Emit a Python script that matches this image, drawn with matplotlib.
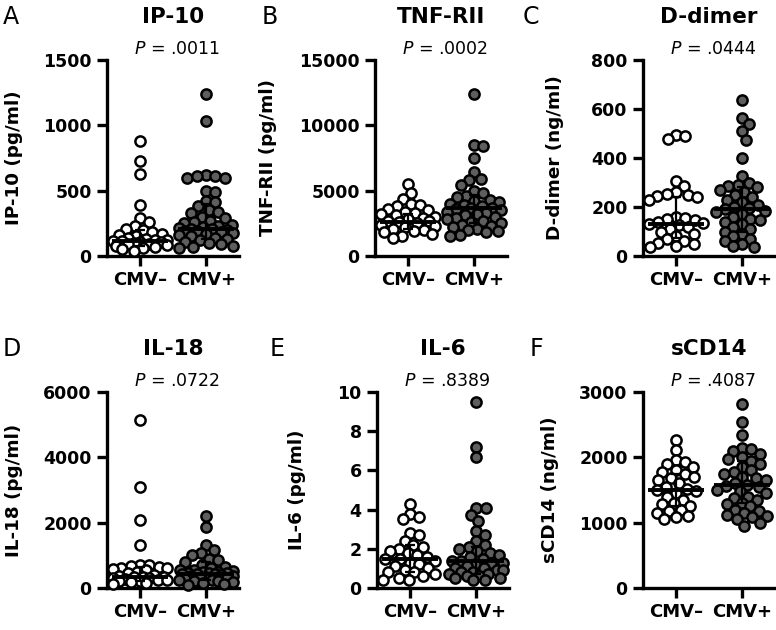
# Six-panel scatter of plasma markers by CMV status (median + IQR)

import numpy as np
import matplotlib.pyplot as plt

plt.rcParams['font.family'] = ['DejaVu Sans']
plt.rcParams['mathtext.fontset'] = 'dejavusans'

# Data
groups = ['CMV\u2013', 'CMV+']
letters = ['A', 'B', 'C', 'D', 'E', 'F']
titles = ['IP-10', 'TNF-RII', 'D-dimer', 'IL-18', 'IL-6', 'sCD14']
ylabels = ['IP-10 (pg/ml)', 'TNF-RII (pg/ml)', 'D-dimer (ng/ml)',
           'IL-18 (pg/ml)', 'IL-6 (pg/ml)', 'sCD14 (ng/ml)']
pvals = ['.0011', '.0002', '.0444', '.0722', '.8389', '.4087']
yticks = [[0, 500, 1000, 1500], [0, 5000, 10000, 15000], [0, 200, 400, 600, 800],
          [0, 2000, 4000, 6000], [0, 2, 4, 6, 8, 10], [0, 1000, 2000, 3000]]

ip10_neg = [880, 730, 630, 390, 290, 260, 230, 210, 200, 180, 170, 160, 150, 140, 130,
            125, 120, 117, 115, 110, 105, 100, 95, 90, 85, 80, 70, 60, 50, 40]
ip10_pos = [1240, 1030, 620, 610, 600, 600, 610, 500, 490, 420, 410, 380, 350, 340, 330,
            300, 290, 270, 260, 250, 240, 230, 220, 215, 210, 205, 200, 195, 190, 180,
            175, 170, 160, 150, 140, 130, 120, 110, 100, 90, 80, 70, 60]
tnf_neg = [5500, 4800, 4400, 4000, 3900, 3800, 3600, 3500, 3400, 3300, 3200, 3100, 3000,
           2900, 2800, 2700, 2650, 2600, 2500, 2400, 2300, 2200, 2100, 2000, 1900, 1800,
           1700, 1500, 1350]
tnf_pos = [12400, 8500, 8400, 7500, 6400, 5900, 5800, 5400, 5000, 4800, 4600, 4500, 4300,
           4200, 4100, 4000, 3900, 3800, 3700, 3650, 3600, 3500, 3400, 3300, 3200, 3100,
           3000, 2900, 2800, 2700, 2600, 2500, 2400, 2300, 2200, 2100, 2000, 1900, 1800,
           1600, 1500]
ddim_neg = [495, 490, 477, 306, 285, 260, 255, 250, 245, 240, 230, 160, 155, 150, 145,
            140, 135, 130, 125, 120, 110, 100, 90, 80, 70, 60, 55, 50, 40, 35]
ddim_pos = [638, 565, 540, 510, 475, 400, 325, 300, 290, 285, 280, 270, 260, 250, 240,
            230, 220, 210, 200, 195, 190, 185, 180, 170, 160, 150, 145, 140, 130, 120,
            110, 100, 90, 80, 70, 60, 50, 40, 35]
il18_neg = [5150, 3080, 2070, 1320, 700, 690, 680, 650, 620, 600, 580, 560, 500, 450,
            400, 380, 350, 340, 330, 320, 300, 280, 260, 240, 220, 200, 180, 150, 120]
il18_pos = [2200, 1880, 1320, 1150, 1070, 1000, 900, 860, 800, 700, 650, 600, 560, 550,
            520, 500, 480, 470, 460, 450, 440, 430, 420, 400, 380, 360, 340, 320, 300,
            280, 260, 240, 220, 200, 180, 150, 120, 100]
il6_neg = [4.3, 3.8, 3.6, 3.5, 2.8, 2.7, 2.4, 2.2, 2.1, 2.0, 1.9, 1.8, 1.7, 1.6, 1.5,
           1.5, 1.4, 1.3, 1.2, 1.1, 1.0, 0.9, 0.8, 0.8, 0.7, 0.6, 0.5, 0.4, 0.4]
il6_pos = [9.5, 7.2, 6.7, 4.1, 4.1, 3.7, 3.4, 2.9, 2.7, 2.4, 2.2, 2.1, 2.0, 1.9, 1.8,
           1.7, 1.6, 1.5, 1.4, 1.4, 1.3, 1.3, 1.2, 1.1, 1.0, 1.0, 0.9, 0.9, 0.8, 0.8,
           0.7, 0.7, 0.6, 0.6, 0.5, 0.5, 0.4, 0.4]
scd14_neg = [2270, 2110, 1960, 1930, 1900, 1850, 1800, 1780, 1750, 1700, 1680, 1650,
             1600, 1550, 1520, 1500, 1480, 1450, 1400, 1350, 1300, 1280, 1250, 1200,
             1180, 1150, 1100, 1080, 1050]
scd14_pos = [2820, 2540, 2340, 2150, 2120, 2100, 2050, 2000, 1980, 1950, 1900, 1850,
             1800, 1780, 1750, 1700, 1680, 1650, 1600, 1580, 1560, 1540, 1500, 1480,
             1450, 1400, 1380, 1350, 1300, 1280, 1250, 1200, 1180, 1150, 1120, 1100,
             1080, 1050, 1000, 950]

medians = [[117, 205], [2630, 3650], [130, 190], [335, 440], [1.48, 1.38], [1500, 1580]]
q1 = [[80, 130], [2100, 2500], [75, 100], [200, 250], [0.8, 0.7], [1250, 1300]]
q3 = [[200, 400], [3200, 4700], [240, 280], [650, 800], [2.2, 2.1], [1750, 1950]]

data = [[ip10_neg, ip10_pos], [tnf_neg, tnf_pos], [ddim_neg, ddim_pos],
        [il18_neg, il18_pos], [il6_neg, il6_pos], [scd14_neg, scd14_pos]]

W, H = 776, 630
fig = plt.figure(figsize=(W / 100, H / 100), dpi=100)

# axes boxes in pixels: left, top
ax_left = [107, 375, 643, 107, 377, 643]
ax_top = [60, 60, 60, 392, 392, 392]
ax_w, ax_h = 132, 196
ylab_x = [-0.64, -0.74, -0.60, -0.64, -0.54, -0.64]
letter_x = [3, 262, 523, 3, 270, 530]


def swarm(vals, ymax, diam=9.5, maxw=27):
    # beeswarm in pixel space, squeezed into a fixed width (points may overlap)
    py = np.array(vals, float) * ax_h / ymax
    order = np.argsort(-py)
    placed = []
    xs = np.zeros(len(vals))
    grid = np.linspace(-maxw, maxw, 19)
    for i in order:
        y = py[i]
        cands = [0.0]
        for (x0, y0) in placed:
            dy = abs(y - y0)
            if dy < diam:
                dx = np.sqrt(diam ** 2 - dy ** 2)
                cands += [x0 + dx, x0 - dx]
        cands = [c for c in cands if abs(c) <= maxw]
        cands.sort(key=abs)
        best = None
        for c in cands:
            if all((c - x0) ** 2 + (y - y0) ** 2 >= diam ** 2 - 1e-6 for (x0, y0) in placed):
                best = c
                break
        if best is None:
            scores = [min((c - x0) ** 2 + (y - y0) ** 2 for (x0, y0) in placed) - 0.01 * abs(c)
                      for c in grid]
            best = grid[int(np.argmax(scores))]
        placed.append((best, y))
        xs[i] = best
    return xs / 66.0


for k in range(6):
    ax = fig.add_axes([ax_left[k] / W, 1 - (ax_top[k] + ax_h) / H, ax_w / W, ax_h / H])
    ymax = yticks[k][-1]
    for g in range(2):
        vals = data[k][g]
        xo = swarm(vals, ymax)
        ax.scatter(g + xo, vals, s=54, marker='o',
                   facecolor='white' if g == 0 else '#5e5e5e',
                   edgecolor='black', linewidth=1.8, zorder=3, clip_on=False)
        ax.hlines(medians[k][g], g - 0.42, g + 0.42, color='black', lw=2.8, zorder=4)
        ax.vlines(g, q1[k][g], q3[k][g], color='black', lw=1.6, zorder=4)
        ax.hlines([q1[k][g], q3[k][g]], g - 0.08, g + 0.08, color='black', lw=1.6, zorder=4)

    ax.set_xlim(-0.5, 1.5)
    ax.set_ylim(0, ymax)
    ax.set_yticks(yticks[k])
    ax.set_xticks([0, 1])
    ax.set_xticklabels(groups)
    for s in ['top', 'right']:
        ax.spines[s].set_visible(False)
    for s in ['left', 'bottom']:
        ax.spines[s].set_linewidth(2.4)
    ax.tick_params(length=7, width=2.4, labelsize=12.5, pad=4)
    ax.tick_params(axis='x', labelsize=13, pad=4)
    for lab in ax.get_xticklabels() + ax.get_yticklabels():
        lab.set_fontweight('bold')
    ax.set_ylabel(ylabels[k], fontsize=13.2, fontweight='bold')
    ax.yaxis.set_label_coords(ylab_x[k], 0.5)

    cx = (ax_left[k] + ax_w / 2) / W
    ty = ax_top[k] - 43
    fig.text(cx, 1 - ty / H, titles[k], ha='center', va='center',
             fontsize=15.5, fontweight='bold')
    fig.text(cx + 4 / W, 1 - (ax_top[k] - 11) / H, r'$P$ = ' + pvals[k], ha='center',
             va='center', fontsize=12.5)
    fig.text(letter_x[k] / W, 1 - ty / H, letters[k], ha='left', va='center',
             fontsize=17)

plt.savefig('out.png', dpi=100)
